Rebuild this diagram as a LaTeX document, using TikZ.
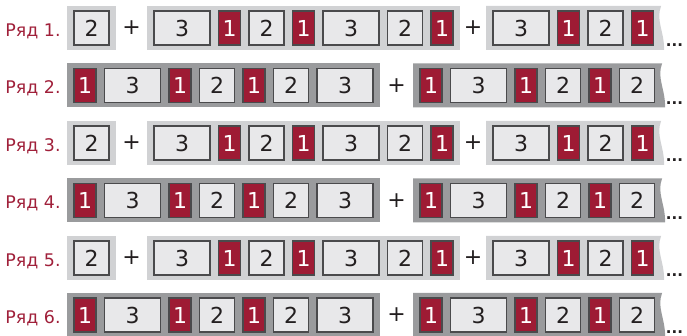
\documentclass[tikz,border=0pt]{standalone}
\usepackage{fontspec}
\setmainfont{DejaVu Sans}
\usetikzlibrary{positioning, fit, calc, backgrounds}
\definecolor{brick}{HTML}{9E1B34}
\definecolor{cellfill}{HTML}{E8E8EA}
\definecolor{cellline}{HTML}{4A4A4C}
\definecolor{bandlight}{HTML}{D1D2D4}
\definecolor{banddark}{HTML}{9A9B9D}
\definecolor{labelred}{HTML}{A0203A}
\definecolor{ink}{HTML}{231F20}

\newcommand{\cellgap}{4.25pt}

\tikzset{
  cell/.style={draw=cellline, line width=0.6pt, fill=cellfill, text=ink,
    font=\fontsize{11}{11}\selectfont, minimum height=17pt,
    inner sep=0pt, outer sep=0pt},
  cell1/.style={cell, fill=brick, text=white, minimum width=11pt},
  cell2/.style={cell, minimum width=17.5pt},
  cell3/.style={cell, minimum width=28pt},
  runbox/.style={inner xsep=3.5pt, inner ysep=2.5pt, outer sep=0pt},
  oddband/.style={fill=bandlight},
  evenband/.style={fill=banddark},
  rowlabel/.style={text=labelred, font=\fontsize{8.7}{8.7}\selectfont, inner sep=0pt},
  plussign/.style={text=ink, font=\fontsize{11}{11}\selectfont, inner sep=0pt},
  trail/.style={text=ink, font=\fontsize{7.5}{7.5}\selectfont\bfseries, inner sep=0pt},
}

% one run of cells, each placed right of the one before
\newcommand{\brickrun}[5]{% name, x of first cell, y, last index, values
  \foreach \v [count=\k, remember=\k as \p (initially 0)] in {#5}{
    \ifnum\k=1
      \node[cell\v, anchor=west] (#1-\k) at (#2,#3) {\v};
    \else
      \node[cell\v, right=\cellgap of #1-\p] (#1-\k) {\v};
    \fi
  }
  \node[runbox, fit=(#1-1)(#1-#4)] (#1) {};
}

% grey strip behind a run
\newcommand{\runband}[2]{%
  \begin{scope}[on background layer]
    \fill[#2] (#1.north west) rectangle (#1.south east);
  \end{scope}}

% grey strip with a torn right edge
\newcommand{\tornband}[2]{%
  \begin{scope}[on background layer]
    \fill[#2] (#1.north west) -- ([xshift=0.3pt]#1.north east)
      .. controls ([xshift=-2.5pt,yshift=-7pt]#1.north east)
      and ([xshift=2pt,yshift=9pt]#1.south east) .. ([xshift=1.8pt]#1.south east)
      -- (#1.south west) -- cycle;
  \end{scope}}

% label and first plus sign of a row
\newcommand{\rowparts}[1]{%
  \node[rowlabel, anchor=base east, xshift=-3pt] (lab#1)
    at (r#1a.west |- r#1a-1.base) {Ряд #1.};
  \node[plussign] (plus#1a) at ($(r#1a.east)!0.5!(r#1b.west)$) {+};
}

\newcommand{\oddrow}[2]{% row number, y of row centre
  \brickrun{r#1a}{74}{#2}{1}{2}
  \brickrun{r#1b}{154}{#2}{7}{3,1,2,1,3,2,1}
  \brickrun{r#1c}{493}{#2}{4}{3,1,2,1}
  \runband{r#1a}{oddband}
  \runband{r#1b}{oddband}
  \tornband{r#1c}{oddband}
  \rowparts{#1}
  \node[plussign] (plus#1b) at ($(r#1b.east)!0.5!(r#1c.west)$) {+};
  \node[trail, anchor=base west] (more#1)
    at ([xshift=2.5pt,yshift=1.5pt]r#1c.south east) {...};
}

\newcommand{\evenrow}[2]{% row number, y of row centre
  \brickrun{r#1a}{74}{#2}{7}{1,3,1,2,1,2,3}
  \brickrun{r#1b}{420}{#2}{6}{1,3,1,2,1,2}
  \runband{r#1a}{evenband}
  \tornband{r#1b}{evenband}
  \rowparts{#1}
  \node[trail, anchor=base west] (more#1)
    at ([xshift=2pt,yshift=1.5pt]r#1b.south east) {...};
}

\begin{document}
\begin{tikzpicture}[x=0.5pt, y=-0.5pt]
\useasboundingbox (0,0) rectangle (687,336);

% rows with the single 2 in front
\foreach \rn/\yc in {1/28, 3/143, 5/258} {\oddrow{\rn}{\yc}}

% rows starting with 1
\foreach \rn/\yc in {2/85.5, 4/200.5, 6/315} {\evenrow{\rn}{\yc}}

\end{tikzpicture}
\end{document}
